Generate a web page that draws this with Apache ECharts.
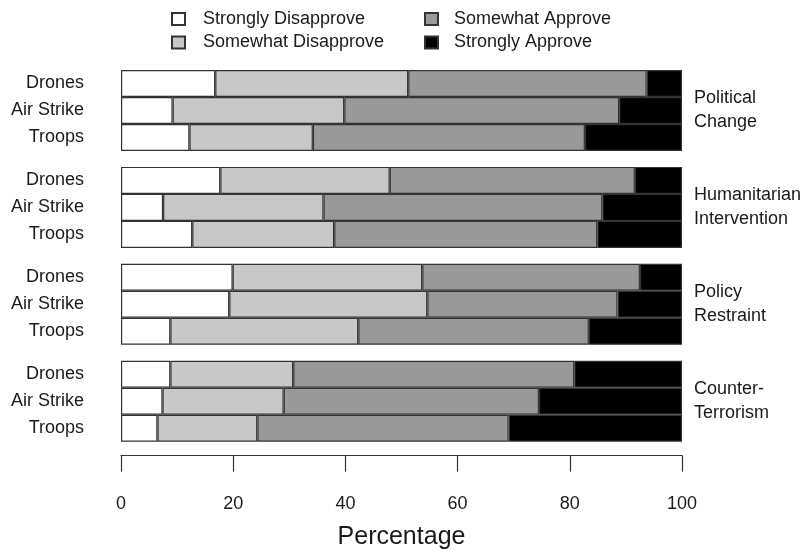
<!DOCTYPE html>
<html><head><meta charset="utf-8">
<script src="https://cdn.jsdelivr.net/npm/echarts@6/dist/echarts.min.js"></script>
<style>html,body{margin:0;padding:0;background:#fff}#c{width:811px;height:551px}</style>
</head><body><div id="c"></div>
<script>
// Data (percentages per segment), panels top to bottom, modes top to bottom
const panels = ['Political\nChange', 'Humanitarian\nIntervention', 'Policy\nRestraint', 'Counter-\nTerrorism'];
const modes = ['Drones', 'Air Strike', 'Troops'];
const levels = ['Strongly Disapprove', 'Somewhat Disapprove', 'Somewhat Approve', 'Strongly Approve'];
const stronglyDisapprove = [[16.8, 9.2, 12.2], [17.7, 7.5, 12.7], [19.9, 19.3, 8.8], [8.8, 7.4, 6.5]];
const somewhatDisapprove = [[34.4, 30.6, 22.0], [30.2, 28.6, 25.3], [33.8, 35.3, 33.5], [21.9, 21.6, 17.8]];
const somewhatApprove = [[42.5, 49.0, 48.5], [43.7, 49.7, 46.9], [38.8, 33.9, 41.1], [50.1, 45.5, 44.8]];
const stronglyApprove = [[6.3, 11.2, 17.3], [8.4, 14.2, 15.1], [7.5, 11.5, 16.6], [19.2, 25.5, 30.9]];
const xTicks = [0, 20, 40, 60, 80, 100];

const levelData = [stronglyDisapprove, somewhatDisapprove, somewhatApprove, stronglyApprove];
const fills = ['#ffffff', '#c8c8c8', '#999999', '#000000'];
const FONT = 'Liberation Sans, Arial, sans-serif';
const TXT = '#1a1a1a';

const gridTop0 = 70, pitch = 96.9, gh = 81, gLeft = 121, gRight = 129;
const grids = [], xAxes = [], yAxes = [], series = [], graphics = [];
panels.forEach((p, i) => {
  const top = gridTop0 + i * pitch;
  grids.push({left: gLeft, right: gRight, top: top, height: gh, containLabel: false});
  const last = i === panels.length - 1;
  xAxes.push({
    gridIndex: i, type: 'value', min: xTicks[0], max: xTicks[xTicks.length - 1], interval: 20,
    show: last, position: 'bottom', offset: 14,
    axisLine: {show: true, lineStyle: {color: '#333', width: 1.2}},
    axisTick: {show: true, length: 16, lineStyle: {color: '#333', width: 1.2}},
    axisLabel: {show: true, margin: 39, fontSize: 18, color: TXT, fontFamily: FONT},
    splitLine: {show: false},
    name: last ? 'Percentage' : '', nameLocation: 'middle', nameGap: 69,
    nameTextStyle: {fontSize: 25, color: TXT, fontFamily: FONT}
  });
  yAxes.push({
    gridIndex: i, type: 'category', data: modes, inverse: true,
    axisLine: {show: false}, axisTick: {show: false},
    axisLabel: {margin: 37, fontSize: 18, color: TXT, fontFamily: FONT}
  });
  levels.forEach((lv, k) => {
    series.push({
      name: lv, type: 'bar', stack: 'p' + i, xAxisIndex: i, yAxisIndex: i,
      barCategoryGap: '0%', barGap: '0%',
      data: levelData[k][i],
      itemStyle: {color: fills[k], borderColor: '#333', borderWidth: 1.2},
      emphasis: {disabled: true}, animation: false
    });
  });
  graphics.push({
    type: 'text', left: 694, top: top + gh / 2 - 24,
    style: {text: p, font: '18px ' + FONT, fill: TXT, lineHeight: 24}
  });
});

const legendCommon = {
  orient: 'vertical', icon: 'rect', itemWidth: 13, itemHeight: 12, itemGap: 5.5,
  selectedMode: false, padding: 0,
  textStyle: {fontSize: 18, color: TXT, fontFamily: FONT}
};
const chart = echarts.init(document.getElementById('c'), null, {renderer: 'canvas'});
chart.setOption({
  animation: false,
  backgroundColor: '#fff',
  legend: [
    Object.assign({}, legendCommon, {left: 171, top: 10, data: [levels[0], levels[1]],
      textStyle: Object.assign({}, legendCommon.textStyle, {padding: [0, 0, 0, 13]})}),
    Object.assign({}, legendCommon, {left: 424, top: 10, data: [levels[2], levels[3]],
      textStyle: Object.assign({}, legendCommon.textStyle, {padding: [0, 0, 0, 11]})})
  ],
  grid: grids, xAxis: xAxes, yAxis: yAxes, series: series, graphic: graphics
});
</script></body></html>
